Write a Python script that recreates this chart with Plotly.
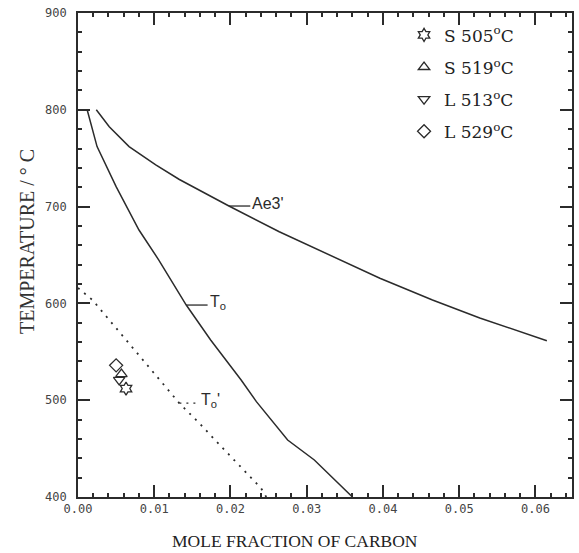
import plotly.graph_objects as go

# ---- data ----
ae3_x = [0.0024, 0.0041, 0.0067, 0.0102, 0.0133, 0.0198, 0.0264, 0.0396, 0.0465, 0.0527, 0.0615]
ae3_y = [800, 782.5, 762, 743, 728, 700.6, 674, 626, 603.5, 585, 561.5]

t0_x = [0.0012, 0.0025, 0.0050, 0.0080, 0.0106, 0.0142, 0.0174, 0.0214, 0.0234, 0.0275, 0.0310, 0.0360]
t0_y = [800, 762, 720.6, 675.8, 644.8, 598.3, 562.2, 520.9, 498.5, 458.9, 438.2, 400]

t0p_x = [0.0000, 0.0019, 0.0133, 0.0159, 0.0188, 0.0240, 0.0247]
t0p_y = [616, 603.5, 496.8, 476.4, 452, 409.3, 400]

pt_names = ["S 505<sup>o</sup>C", "S 519<sup>o</sup>C", "L 513<sup>o</sup>C", "L 529<sup>o</sup>C"]
pt_symbols = ["hexagram-open", "triangle-up-open", "triangle-down-open", "diamond-open"]
pt_x = [0.0063, 0.0057, 0.0054, 0.0050]
pt_y = [512, 527, 521, 536]

# curve labels: text, anchor point on curve, leader length (data units)
lab_text = ["Ae3'", "T<sub>o</sub>", "T<sub>o</sub>'"]
lab_x = [0.0198, 0.0142, 0.0133]
lab_y = [700.6, 598.3, 497]
lab_len = [0.0028, 0.0028, 0.0026]
lab_dash = ["solid", "solid", "2px,5px"]

x_title = "MOLE FRACTION OF CARBON"
y_title = "TEMPERATURE / ° C"

x_range = [0, 0.0648]
y_range = [400, 900]
x_major, x_minor = 0.01, 0.002
y_major, y_minor = 100, 20

INK = "#2b2b2b"
fig = go.Figure()

fig.add_trace(go.Scatter(x=ae3_x, y=ae3_y, mode="lines", line=dict(color=INK, width=1.5),
                         showlegend=False, hoverinfo="skip"))
fig.add_trace(go.Scatter(x=t0_x, y=t0_y, mode="lines", line=dict(color=INK, width=1.5),
                         showlegend=False, hoverinfo="skip"))
fig.add_trace(go.Scatter(x=t0p_x, y=t0p_y, mode="lines", line=dict(color=INK, width=1.8, dash="2px,6px"),
                         showlegend=False, hoverinfo="skip"))

for i in range(len(lab_text)):
    fig.add_trace(go.Scatter(x=[lab_x[i], lab_x[i] + lab_len[i]], y=[lab_y[i], lab_y[i]], mode="lines",
                             line=dict(color=INK, width=1.3, dash=lab_dash[i]),
                             showlegend=False, hoverinfo="skip"))
    fig.add_annotation(x=lab_x[i] + lab_len[i], y=lab_y[i], text=lab_text[i], showarrow=False,
                       xanchor="left", yanchor="middle", xshift=0, yshift=3,
                       font=dict(family="Liberation Sans", size=16, color=INK))

for i in range(len(pt_names)):
    fig.add_trace(go.Scatter(x=[pt_x[i]], y=[pt_y[i]], mode="markers", name=pt_names[i],
                             legendgroup=f"g{i}",
                             marker=dict(symbol=pt_symbols[i], size=10, color=INK,
                                         line=dict(color=INK, width=1.3))))

axis_common = dict(showline=True, linecolor=INK, linewidth=1.5, mirror="allticks",
                   ticks="inside", ticklen=12, tickwidth=2, tickcolor=INK,
                   showgrid=False, zeroline=False, automargin=False,
                   tickfont=dict(family="DejaVu Sans Mono", size=12, color="#444"))

fig.update_xaxes(range=x_range, dtick=x_major, tick0=0, tickformat=".2f",
                 minor=dict(dtick=x_minor, ticks="inside", ticklen=4, tickcolor=INK, tickwidth=1.5),
                 **axis_common)
fig.update_yaxes(range=y_range, dtick=y_major, tick0=400,
                 minor=dict(dtick=y_minor, ticks="inside", ticklen=4, tickcolor=INK, tickwidth=1.5),
                 ticksuffix=" ",
                 **axis_common)

# axis titles (placed as in the reference, slightly off-centre)
fig.add_annotation(text=x_title, xref="paper", yref="paper", x=0.439, y=-0.091,
                   xanchor="center", yanchor="middle", showarrow=False,
                   font=dict(family="Liberation Serif", size=17.5, color="#222"))
fig.add_annotation(text=y_title, xref="paper", yref="paper", x=-0.103, y=0.527,
                   xanchor="center", yanchor="middle", textangle=-90, showarrow=False,
                   font=dict(family="Liberation Serif", size=20, color="#333"))

fig.update_layout(
    template="none",
    width=579, height=553,
    margin=dict(l=78, r=7, t=13, b=56),
    paper_bgcolor="white", plot_bgcolor="white",
    legend=dict(x=0.66, y=0.991, xanchor="left", yanchor="top", bgcolor="rgba(0,0,0,0)",
                tracegroupgap=7, font=dict(family="DejaVu Serif", size=17, color="#222")),
)

fig.write_html("out.html", config={"displayModeBar": False},
               post_script="document.body.style.margin='0';")
